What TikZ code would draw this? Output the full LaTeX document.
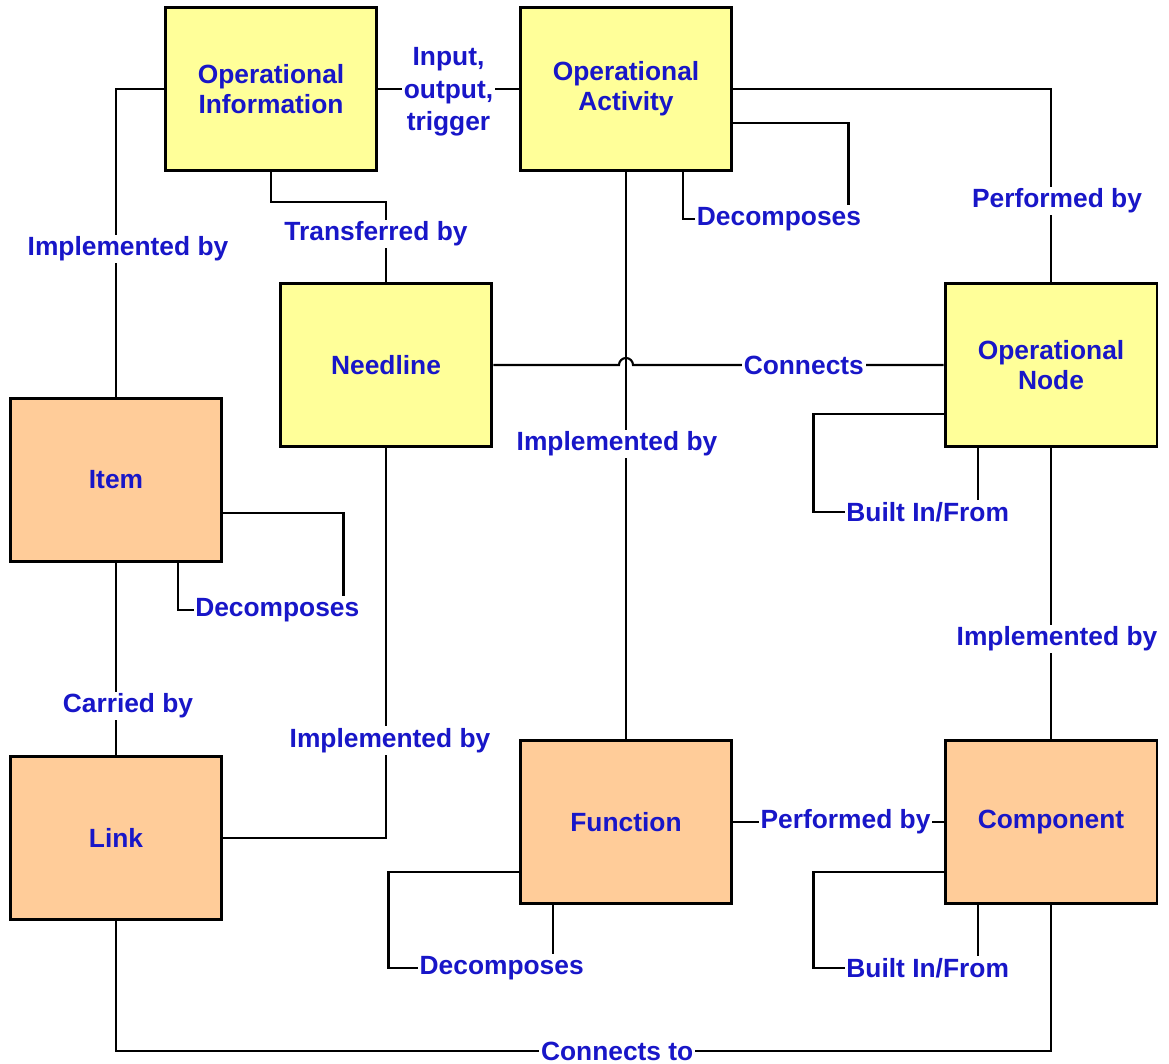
\documentclass[tikz,border=0pt]{standalone}
\usepackage{fontspec}
\setmainfont{Liberation Sans}
\usetikzlibrary{calc}
\definecolor{boxyellow}{RGB}{255,255,153}
\definecolor{boxorange}{RGB}{255,204,153}
\definecolor{lblblue}{RGB}{24,22,200}
\begin{document}
\begin{tikzpicture}[x=0.02cm,y=-0.02cm,line width=1.2pt,
  font=\fontsize{15}{17}\selectfont\bfseries,
  box/.style={draw=black,line width=1.7pt,minimum width=4.24cm,minimum height=3.26cm,text=lblblue,align=center,inner sep=0pt},
  opbox/.style={box,fill=boxyellow},
  sysbox/.style={box,fill=boxorange},
  lbl/.style={fill=white,text=lblblue,inner sep=1pt}]
\useasboundingbox (0,0) rectangle (1169,1063);

% operational view
\node[opbox] (opinfo) at (271,89) {Operational\\Information};
\node[opbox] (opact) at (626,89) {Operational\\Activity};
\node[opbox] (needline) at (386,365) {Needline};
\node[opbox] (opnode) at (1051,365) {Operational\\Node};
% system view
\node[sysbox] (item) at (116,480) {Item};
\node[sysbox] (link) at (116,838) {Link};
\node[sysbox] (function) at (626,822) {Function};
\node[sysbox] (component) at (1051,822) {Component};

\draw (opinfo.west) -| node[lbl,pos=0.76,xshift=0.24cm] {Implemented by} (item.north);
\draw (opinfo) -- node[lbl,align=center,font=\fontsize{15}{18.5}\selectfont\bfseries,yshift=-0.06cm] {Input,\\output,\\trigger} (opact);
\draw (opinfo.south) -- ++(0,30) -| node[lbl,pos=0.7,xshift=-0.2cm] {Transferred by} (needline.north);
\draw (opact.east) -| node[lbl,pos=0.79,xshift=0.12cm] {Performed by} (opnode.north);
\draw ($(opact.east)+(0,34)$) -- ++(115,0) -- ++(0,96) -| node[lbl,pos=0.21] {Decomposes} ($(opact.south)+(57,0)$);
\draw (opact) -- node[lbl,pos=0.48,xshift=-0.18cm] {Implemented by} (function);
\draw (needline.east) -- ($(needline.east -| opact.south)+(-7,0)$) arc[start angle=180,end angle=0,radius=0.14cm]
  -- node[lbl,pos=0.55] {Connects} (opnode.west);
\draw (needline.south) |- node[lbl,pos=0.375,xshift=0.08cm] {Implemented by} (link.east);
\draw (item) -- node[lbl,pos=0.745,xshift=0.24cm] {Carried by} (link);
\draw ($(item.east)+(0,33)$) -- ++(120,0) -- ++(0,97) -| node[lbl,pos=0.2] {Decomposes} ($(item.south)+(62,0)$);
\draw ($(function.west)+(0,50)$) -| ++(-130,96) -| node[lbl,pos=0.344] {Decomposes} ($(function.south)+(-73,0)$);
\draw (function) -- node[lbl,xshift=0.14cm] {Performed by} (component);
\draw (opnode) -- node[lbl,pos=0.656,xshift=0.12cm] {Implemented by} (component);
\draw ($(opnode.west)+(0,49)$) -| ++(-130,98) -| node[lbl,pos=0.347] {Built In/From} ($(opnode.south)+(-73,0)$);
\draw ($(component.west)+(0,50)$) -| ++(-130,96) -| node[lbl,pos=0.347] {Built In/From} ($(component.south)+(-73,0)$);
\draw (link.south) -- ++(0,130) -| node[lbl,pos=0.268] {Connects to} (component.south);
\end{tikzpicture}
\end{document}
